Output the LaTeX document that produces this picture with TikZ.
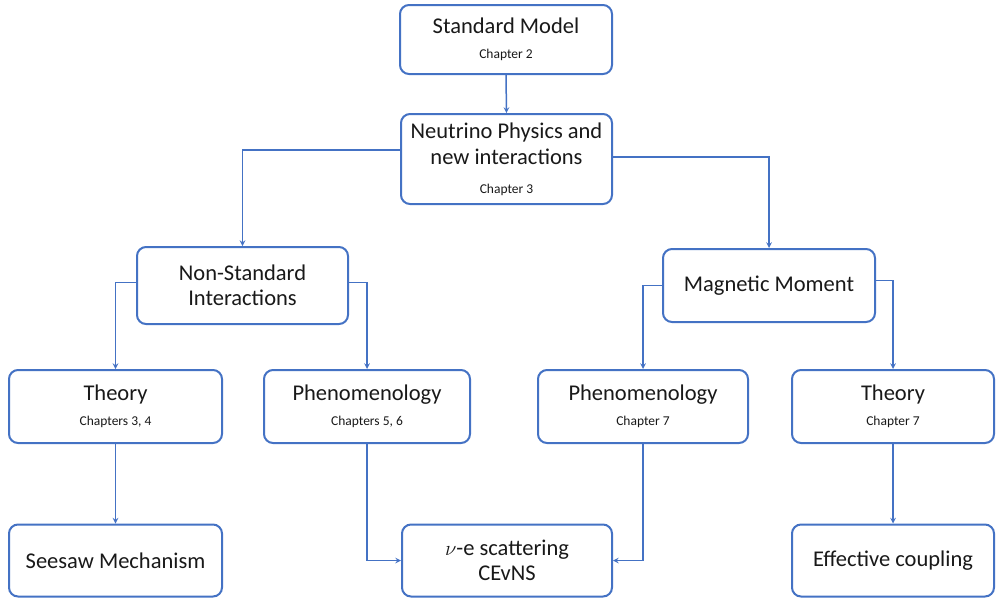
\documentclass[tikz,border=0pt]{standalone}
\usepackage{fontspec}
\setmainfont{Carlito}
\usetikzlibrary{arrows,positioning}

\definecolor{boxblue}{HTML}{4472C4}

\tikzset{
  box/.style={draw=boxblue, line width=2pt, rounded corners=9pt, fill=white,
    align=center, inner sep=2pt, text=black!90,
    font=\fontsize{22.5}{25}\selectfont},
  link/.style={->, >=stealth, draw=boxblue, line width=1.5pt},
}
\newcommand{\chap}[1]{{\fontsize{13.5}{16}\selectfont #1}}

\begin{document}
\begin{tikzpicture}[x=1pt,y=1pt]
\useasboundingbox (0,0) rectangle (996,-598);
% top of the tree
\node[box, minimum width=212pt, minimum height=69pt] (sm) at (506,-39.5) {Standard Model\\\chap{Chapter 2}};
\node[box, minimum width=211pt, minimum height=90pt] (np) at (506.5,-159) {Neutrino Physics and\\[1pt]new interactions\\[4pt]\chap{Chapter 3}};
% second level
\node[box, minimum width=211pt, minimum height=77pt] (nsi) at (242.5,-285.5) {Non-Standard\\Interactions};
\node[box, minimum width=212pt, minimum height=73pt] (mm) at (769,-285.5) {Magnetic Moment};
% third level
\node[box, minimum width=213pt, minimum height=73pt] (th1) at (115.5,-406.5) {Theory\\\chap{Chapters 3, 4}};
\node[box, minimum width=206pt, minimum height=73pt] (ph1) at (367,-406.5) {Phenomenology\\\chap{Chapters 5, 6}};
\node[box, minimum width=210pt, minimum height=73pt] (ph2) at (643,-406.5) {Phenomenology\\\chap{Chapter 7}};
\node[box, minimum width=202pt, minimum height=73pt] (th2) at (893,-406.5) {Theory\\\chap{Chapter 7}};
% bottom row
\node[box, minimum width=213pt, minimum height=72pt] (ss) at (115.5,-560.5) {Seesaw Mechanism};
\node[box, minimum width=210pt, minimum height=72pt] (ce) at (507,-560.5) {$\nu$-e scattering\\CEvNS};
\node[box, minimum width=202pt, minimum height=72pt] (ec) at (893,-560.5) {Effective coupling};

\draw[link] (sm.south) -- (np.north);
\draw[link] ([yshift=9pt]np.west) -| (nsi.north);
\draw[link] ([yshift=2pt]np.east) -| (mm.north);
\draw[link] ([yshift=3pt]nsi.west) -| (th1.north);
\draw[link] ([yshift=3pt]nsi.east) -| (ph1.north);
\draw[link] (mm.west) -| (ph2.north);
\draw[link] ([yshift=5pt]mm.east) -| (th2.north);
\draw[link] (th1.south) -- (ss.north);
\draw[link] (ph1.south) |- (ce.west);
\draw[link] (ph2.south) |- (ce.east);
\draw[link] (th2.south) -- (ec.north);
\end{tikzpicture}
\end{document}
